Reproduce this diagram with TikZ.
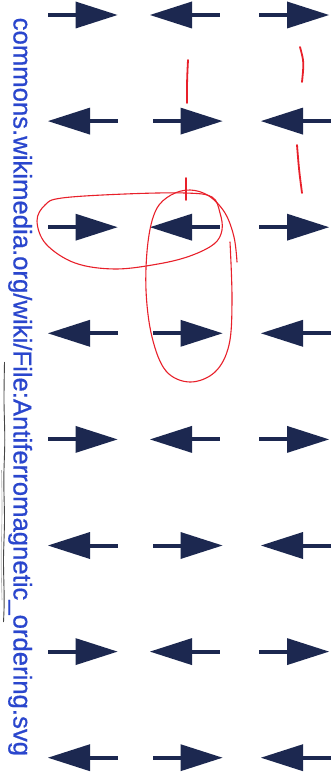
\documentclass[tikz,border=0pt]{standalone}
\usepackage{fontspec}
\newfontfamily\urlfont[FakeBold=0.6]{Liberation Sans}
\definecolor{navy}{RGB}{28,40,80}
\definecolor{inkred}{RGB}{232,32,42}
\definecolor{urlblue}{RGB}{42,70,205}
\tikzset{
  rarr/.pic={\fill[navy] (-35,-2) rectangle (-6,2);
             \fill[navy] (-7,13.5) -- (35,0) -- (-7,-13.5) -- cycle;},
  larr/.pic={\fill[navy] (6,-2) rectangle (35,2);
             \fill[navy] (7,13.5) -- (-35,0) -- (7,-13.5) -- cycle;},
  pen/.style={draw=inkred, line width=1.1pt, line cap=round},
  penthick/.style={draw=inkred, line width=1.8pt, line cap=round},
}
\begin{document}
\begin{tikzpicture}[x=1pt,y=1pt]
\fill[white] (0,0) rectangle (335,-776);
\useasboundingbox (0,0) rectangle (335,-776);
% arrows
\foreach \r in {0,2,4,6}{
  \pgfmathsetmacro\yy{-15-106.1*\r}
  \pic at (82.5,\yy) {rarr};
  \pic at (185,\yy) {larr};
  \pic at (294,\yy) {rarr};
}
\foreach \r in {1,3,5,7}{
  \pgfmathsetmacro\yy{-15-106.1*\r}
  \pic at (83,\yy) {larr};
  \pic at (187.5,\yy) {rarr};
  \pic at (296,\yy) {larr};
}
% url text
\node[rotate=-90, anchor=base west, inner sep=0pt, text=urlblue,
      font=\urlfont\fontsize{25.7}{30}\selectfont] (url) at (13.5,-17.5)
  {commons.wikimedia.org/wiki/File:Antiferromagnetic\_ordering.svg};
% scan edge
\draw[gray!55!black, line width=0.9pt] plot[smooth] coordinates
  {(4.5,-362) (4,-400) (4.8,-440) (3.8,-480) (4.5,-520) (3.5,-560) (4.2,-600) (3.5,-622)};
\draw[gray!60, line width=0.6pt] plot[smooth] coordinates
  {(1.5,-470) (2,-510) (1.2,-560) (2,-600)};
% red marks
\draw[penthick] (188,-60) .. controls (187,-80) .. (187,-103);
\draw[penthick] (300,-47) .. controls (304,-62) .. (302,-82);
\draw[penthick] (297,-145) .. controls (299,-170) .. (302,-193);
\draw[penthick] (186,-178) -- (186,-200);
\draw[pen] plot[smooth cycle, tension=0.6] coordinates
  {(212,-197) (220,-213) (222,-230) (214,-244) (190,-256) (158,-264) (115,-269) (75,-263)
   (46,-244) (37,-221) (45,-205) (62,-198) (125,-194) (185,-193)};
\draw[pen] plot[smooth, tension=0.6] coordinates
  {(230,-242) (232,-300) (229,-345) (215,-372) (190,-382) (166,-371) (152,-337)
   (146,-290) (148,-242) (156,-210) (171,-195) (190,-190) (209,-196) (225,-213)
   (234,-237) (237,-262)};
\end{tikzpicture}
\end{document}
